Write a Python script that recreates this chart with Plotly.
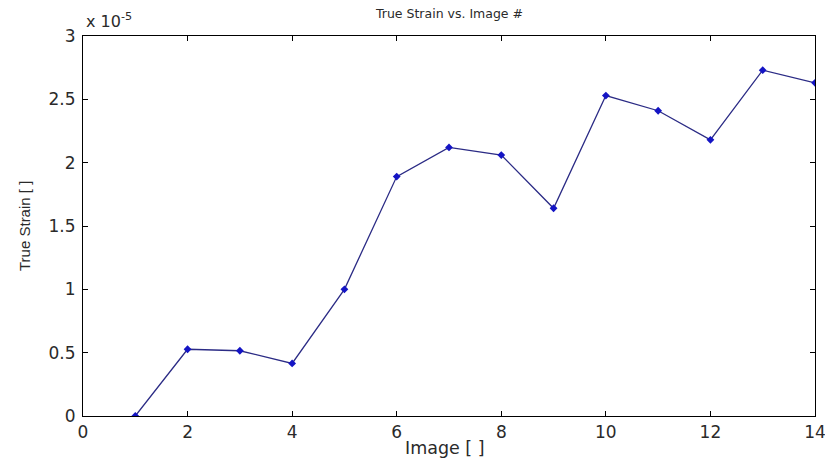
import plotly.graph_objects as go

# Image number and measured true strain
image_no = [1, 2, 3, 4, 5, 6, 7, 8, 9, 10, 11, 12, 13, 14]
true_strain = [0.0, 0.527e-5, 0.515e-5, 0.415e-5, 1.0e-5, 1.89e-5, 2.12e-5,
               2.06e-5, 1.64e-5, 2.53e-5, 2.41e-5, 2.18e-5, 2.73e-5, 2.63e-5]

x_ticks = [0, 2, 4, 6, 8, 10, 12, 14]
y_ticks = [0, 0.5e-5, 1.0e-5, 1.5e-5, 2.0e-5, 2.5e-5, 3.0e-5]
y_tick_text = ["0", "0.5", "1", "1.5", "2", "2.5", "3"]

wide_font = "DejaVu Sans, Verdana, sans-serif"
narrow_font = "Liberation Sans, Arial, sans-serif"
text_color = "#2a2a2a"

fig = go.Figure()
fig.add_trace(go.Scatter(
    x=image_no, y=true_strain, mode="lines+markers",
    line=dict(color="#2b2b85", width=1.3),
    marker=dict(color="#1414c4", size=6, symbol="diamond"),
    showlegend=False,
))

axis_common = dict(
    showline=True, linecolor="black", linewidth=1.2, mirror="ticks",
    ticks="inside", ticklen=5, tickcolor="black", showgrid=False,
    zeroline=False, automargin=False, ticklabeloverflow="allow",
    tickfont=dict(family=wide_font, size=17, color=text_color),
)

fig.update_layout(
    width=825, height=461,
    margin=dict(l=83, r=10, t=36, b=45),
    paper_bgcolor="white", plot_bgcolor="white",
    font=dict(family=wide_font, color=text_color),
    xaxis=dict(range=[0, 14], tickvals=x_ticks, **axis_common),
    yaxis=dict(range=[0, 3e-5], tickvals=y_ticks, ticktext=y_tick_text,
               ticklabelstandoff=3, **axis_common),
    annotations=[
        # title
        dict(text="True Strain vs. Image #", x=0.5, xref="paper", y=1.0, yref="paper",
             yanchor="bottom", yshift=13, showarrow=False,
             font=dict(size=12.5, family=wide_font, color=text_color)),
        # x-axis label
        dict(text="Image [ ]", x=0.494, xref="paper", y=0, yref="paper",
             yanchor="top", yshift=-20, showarrow=False,
             font=dict(size=17.5, family=wide_font, color=text_color)),
        # y-axis label
        dict(text="True Strain [ ]", x=-(83 - 24) / (825 - 83 - 10), xref="paper",
             y=0.5, yref="paper", xanchor="center", textangle=-90, showarrow=False,
             font=dict(size=15, family=narrow_font, color=text_color)),
        # exponent marker for the y axis
        dict(text="x 10<sup>-5</sup>", x=0, xref="paper", y=1.0, yref="paper",
             xanchor="left", yanchor="bottom", xshift=1, yshift=3, showarrow=False,
             font=dict(size=16, family=wide_font, color=text_color)),
    ],
)

fig.write_html("out.html")
